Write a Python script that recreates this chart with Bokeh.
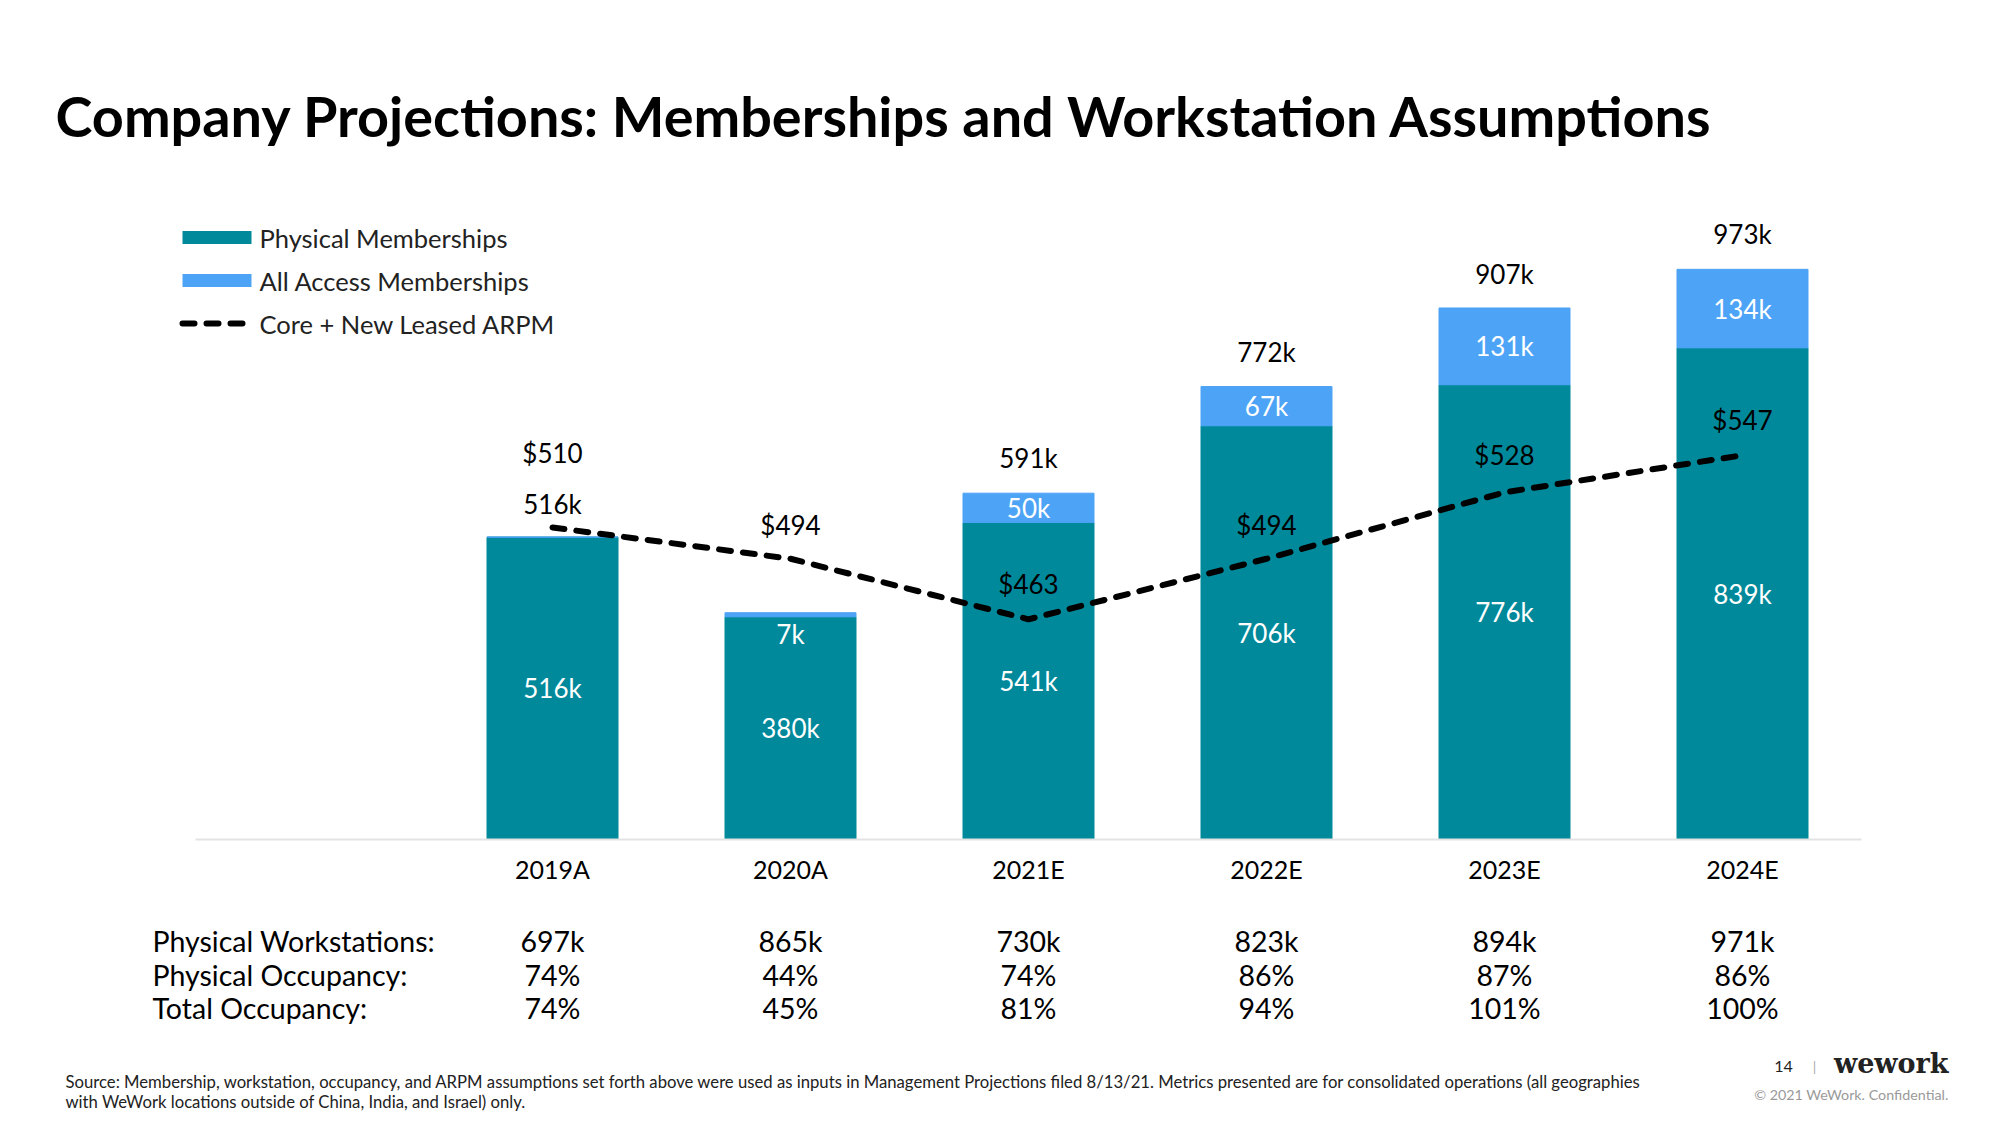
from bokeh.plotting import figure
from bokeh.models import ColumnDataSource, Range1d
from bokeh.core.properties import value
from bokeh.embed import file_html
from bokeh.resources import INLINE

# ---------------- data ----------------
years = ["2019A", "2020A", "2021E", "2022E", "2023E", "2024E"]
physical = [516, 380, 541, 706, 776, 839]          # k
all_access = [0, 7, 50, 67, 131, 134]             # k
total_labels = ["516k", "", "591k", "772k", "907k", "973k"]
arpm = [510, 494, 463, 494, 528, 547]             # $
workstations = ["697k", "865k", "730k", "823k", "894k", "971k"]
phys_occ = ["74%", "44%", "74%", "86%", "87%", "86%"]
total_occ = ["74%", "45%", "81%", "94%", "101%", "100%"]
row_labels = ["Physical Workstations:", "Physical Occupancy:", "Total Occupancy:"]
legend_labels = ["Physical Memberships", "All Access Memberships", "Core + New Leased ARPM"]

# ---------------- layout helpers (page pixels -> data) ----------------
W, H = 2000, 1125
OFF = 0                         # page offset of the canvas
PX0, PXSTEP = 552, 238          # page x of first bar centre, bar spacing
BASE = 839                      # page y of baseline
KPX = 0.586                     # px per k
APX = 1.953                     # px per $
A_REF, A_Y = 510, 527           # $510 drawn at page y 527


def X(px):
    return (px - PX0) / PXSTEP


def Y(py):
    return (BASE - py) / KPX


TEAL = "#00899B"
LBLUE = "#4DA3F5"
FONT = "Lato"
DASH = "12 12"

p = figure(width=W, height=H, output_backend="svg", toolbar_location=None,
           x_range=Range1d(X(OFF), X(OFF + W)), y_range=Range1d(Y(OFF + H), Y(OFF)),
           x_axis_location=None, y_axis_location=None, min_border=0,
           outline_line_color=None, background_fill_color="white",
           border_fill_color="white")
p.grid.visible = False
p.extra_y_ranges = {"arpm": Range1d(A_REF - (OFF + H - A_Y) / APX, A_REF + (A_Y - OFF) / APX)}

xs = list(range(len(years)))
tops = [a + b for a, b in zip(physical, all_access)]
src = ColumnDataSource(dict(x=xs, year=years, phys=physical, aa=all_access, top=tops,
                            phys_mid=[v / 2 for v in physical],
                            tot=total_labels, arpm=arpm,
                            phys_lbl=["%dk" % v for v in physical],
                            ws=workstations, po=phys_occ, to=total_occ))

BW = 131 / PXSTEP
p.vbar(x="x", bottom=0, top="phys", width=BW, color=TEAL, source=src)
p.vbar(x="x", bottom="phys", top="top", width=BW, color=LBLUE, source=src)
p.line(x="x", y="arpm", y_range_name="arpm", source=src, line_color="black",
       line_width=6, line_dash=DASH, line_cap="round")

# baseline
p.segment(x0=[X(195)], y0=[0], x1=[X(1861)], y1=[0], line_color="#E3E3E3", line_width=2)

tf = value(FONT)

# physical labels (centred in segment)
p.text(x="x", y="phys_mid", text="phys_lbl", source=src, text_color="white",
       text_font=tf, text_font_size="26px", text_align="center", text_baseline="middle")
# all access labels
aa_y, aa_off, aa_txt = [], [], []
for ph, a in zip(physical, all_access):
    if a == 0:
        aa_txt.append("")
        aa_y.append(ph)
        aa_off.append(0)
    elif a < 20:
        aa_txt.append("%dk" % a)
        aa_y.append(ph + a)
        aa_off.append(21)
    else:
        aa_txt.append("%dk" % a)
        aa_y.append(ph + a / 2)
        aa_off.append(0)
p.text(x=xs, y=aa_y, y_offset=aa_off, text=aa_txt, text_color="white",
       text_font=tf, text_font_size="26px", text_align="center", text_baseline="middle")
# totals
tot_off = [-33, -35, -35, -35, -34, -35]
p.text(x=xs, y=tops, y_offset=tot_off, text=total_labels, text_color="black",
       text_font=tf, text_font_size="26px", text_align="center", text_baseline="middle")
# ARPM labels
arpm_off = [-75, -34, -35, -34, -37, -35]
p.text(x=xs, y=arpm, y_offset=arpm_off, y_range_name="arpm", text=["$%d" % v for v in arpm],
       text_color="black", text_font=tf, text_font_size="26px", text_align="center",
       text_baseline="middle")
# category labels
p.text(x="x", y=0, y_offset=29, text="year", source=src, text_color="black",
       text_font=tf, text_font_size="25px", text_align="center", text_baseline="middle")

# table
row_off = [101, 135, 168]
for col, off in zip(["ws", "po", "to"], row_off):
    p.text(x="x", y=0, y_offset=off, text=col, source=src, text_color="black",
           text_font=tf, text_font_size="28.5px", text_align="center", text_baseline="middle")
p.text(x=[X(152)] * 3, y=[0] * 3, y_offset=row_off, text=row_labels, text_color="black",
       text_font=tf, text_font_size="28.5px", text_align="left", text_baseline="middle")

# title
p.text(x=[X(55)], y=[Y(115)], text=["Company Projections: Memberships and Workstation Assumptions"],
       text_color="black", text_font=tf, text_font_style="bold", text_font_size="55.8px",
       text_align="left", text_baseline="middle")

# legend (drawn by hand to match the slide)
leg_y = [237, 280, 323]
p.quad(left=[X(182)] * 2, right=[X(251)] * 2,
       top=[Y(leg_y[0] - 6.5), Y(leg_y[1] - 6.5)], bottom=[Y(leg_y[0] + 6.5), Y(leg_y[1] + 6.5)],
       fill_color=[TEAL, LBLUE], line_color=None)
p.line(x=[X(182), X(247)], y=[Y(leg_y[2])] * 2, line_color="black", line_width=6,
       line_dash=DASH, line_cap="round")
p.text(x=[X(259)] * 3, y=[Y(v) for v in leg_y], text=legend_labels, text_color="#222222",
       text_font=tf, text_font_size="25.5px", text_align="left", text_baseline="middle")

# footer
p.text(x=[X(65), X(65)], y=[Y(1081), Y(1101)],
       text=["Source: Membership, workstation, occupancy, and ARPM assumptions set forth above were used as inputs in Management Projections filed 8/13/21. Metrics presented are for consolidated operations (all geographies",
             "with WeWork locations outside of China, India, and Israel) only."],
       text_color="#222222", text_font=tf, text_font_size="16.7px", text_align="left",
       text_baseline="middle")
p.text(x=[X(1783)], y=[Y(1066)], text=["14"], text_color="#222222", text_font=tf,
       text_font_size="16px", text_align="center", text_baseline="middle")
p.text(x=[X(1814)], y=[Y(1066)], text=["|"], text_color="#AAAAAA", text_font=tf,
       text_font_size="14px", text_align="center", text_baseline="middle")
p.text(x=[X(1948)], y=[Y(1063)], text=["wework"], text_color="#222222",
       text_font=value("DejaVu Serif"), text_font_style="bold", text_font_size="27px",
       text_align="right", text_baseline="middle")
p.text(x=[X(1948)], y=[Y(1094)], text=["\u00a9 2021 WeWork. Confidential."], text_color="#9A9A9A",
       text_font=tf, text_font_size="14.3px", text_align="right", text_baseline="middle")

open("out.html", "w").write(file_html(p, INLINE))
